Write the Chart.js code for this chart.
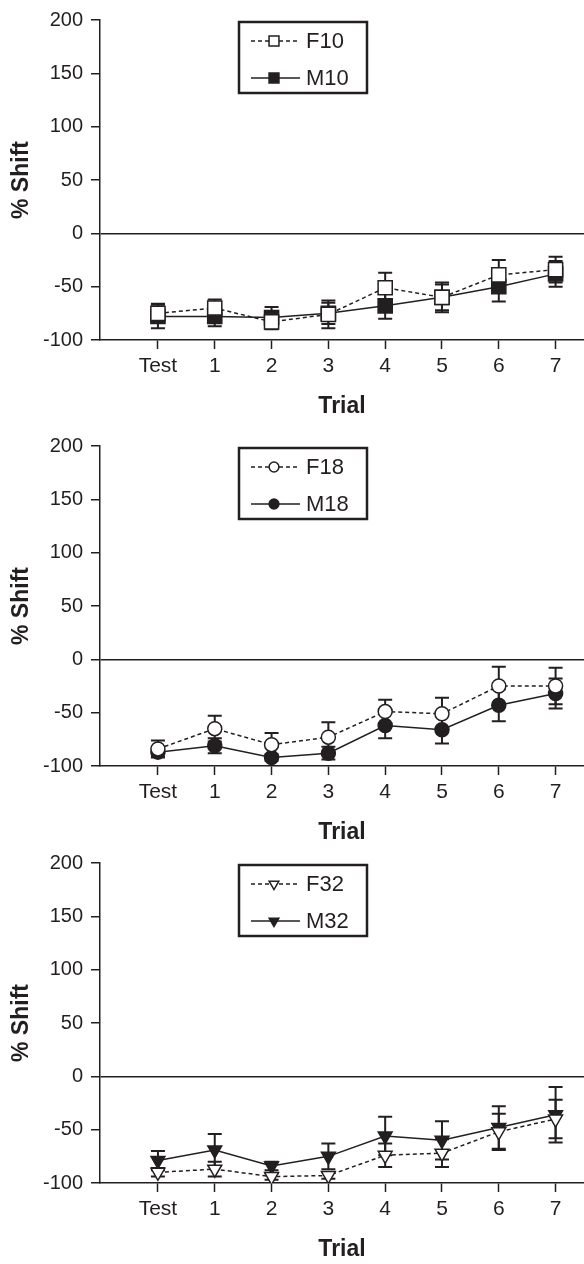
<!DOCTYPE html>
<html>
<head>
<meta charset="utf-8">
<script src="https://cdn.jsdelivr.net/npm/chart.js@4.4.1/dist/chart.umd.min.js"></script>
<style>
    html, body { margin: 0; padding: 0; background: #fff; overflow: hidden; width: 584px; height: 1264px; }
    .panel { position: absolute; left: 0; width: 584px; height: 420px; }
</style>
</head>
<body>
<div class="panel" style="top:0"><canvas id="chart10"></canvas></div>
<div class="panel" style="top:426px"><canvas id="chart18"></canvas></div>
<div class="panel" style="top:843px"><canvas id="chart32"></canvas></div>
<script>
// data
const trialLabels = ['Test', '1', '2', '3', '4', '5', '6', '7'];
const yTicks = [-100, -50, 0, 50, 100, 150, 200];

const f10 = [-75, -70, -83, -76, -51, -60, -39, -34];
const f10Err = [9, 8, 7, 13, 14, 14, 14, 12];
const m10 = [-78, -78, -79, -75, -68, -60, -50, -38];
const m10Err = [11, 9, 10, 10, 12, 12, 14, 12];

const f18 = [-84, -65, -80, -73, -49, -51, -25, -25];
const f18Err = [8, 12, 11, 14, 11, 15, 18, 17];
const m18 = [-87, -81, -92, -88, -62, -66, -43, -32];
const m18Err = [4, 7, 3, 6, 12, 13, 15, 14];

const f32 = [-90, -87, -94, -93, -74, -72, -52, -40];
const f32Err = [4, 7, 3, 3, 11, 13, 17, 18];
const m32 = [-79, -69, -84, -75, -56, -60, -48, -36];
const m32Err = [9, 15, 4, 12, 18, 18, 20, 26];

const ink = '#231f20';
const fontFamily = '"Liberation Sans", Arial, sans-serif';

// vertical error bars, drawn under the markers
const errorBars = {
    id: 'errorBars',
    beforeDatasetsDraw(chart) {
        const ctx = chart.ctx;
        const xs = chart.scales.x, ys = chart.scales.y;
        ctx.save();
        ctx.strokeStyle = ink;
        ctx.lineWidth = 2;
        chart.data.datasets.forEach(ds => {
            ds.errors.forEach((e, i) => {
                const v = ds.data[i].y;
                const x = xs.getPixelForValue(i);
                const y1 = ys.getPixelForValue(v + e);
                const y2 = ys.getPixelForValue(v - e);
                ctx.beginPath();
                ctx.moveTo(x, y1); ctx.lineTo(x, y2);
                ctx.moveTo(x - 7, y1); ctx.lineTo(x + 7, y1);
                ctx.moveTo(x - 7, y2); ctx.lineTo(x + 7, y2);
                ctx.stroke();
            });
        });
        ctx.restore();
    }
};

// boxed legend inside the plot
const boxLegend = {
    id: 'boxLegend',
    afterDraw(chart) {
        const ctx = chart.ctx;
        const top = chart.chartArea.top;
        ctx.save();
        ctx.strokeStyle = ink;
        ctx.lineWidth = 2.5;
        ctx.strokeRect(239, top + 2, 128, 71);
        chart.data.datasets.forEach((ds, k) => {
            const cy = top + 21 + k * 37;
            ctx.lineWidth = 1.5;
            ctx.setLineDash(ds.borderDash || []);
            ctx.beginPath();
            ctx.moveTo(251, cy);
            ctx.lineTo(300, cy);
            ctx.stroke();
            ctx.setLineDash([]);
            ctx.fillStyle = ds.pointBackgroundColor;
            Chart.helpers.drawPoint(ctx, {
                pointStyle: ds.pointStyle,
                radius: ds.pointRadius * 0.7,
                rotation: ds.pointRotation || 0,
                borderWidth: 1.5
            }, 274, cy);
            ctx.fillStyle = ink;
            ctx.font = '22px ' + fontFamily;
            ctx.textBaseline = 'middle';
            ctx.textAlign = 'left';
            ctx.fillText(ds.label, 306, cy + 1);
        });
        ctx.restore();
    }
};

function series(label, values, errors, style, radius, filled, dashed, rotation) {
    return {
        label: label,
        data: values.map((v, i) => ({ x: i, y: v })),
        errors: errors,
        borderColor: ink,
        borderWidth: 1.5,
        borderDash: dashed ? [4, 3] : [],
        pointStyle: style,
        pointRadius: radius,
        pointRotation: rotation || 0,
        pointBackgroundColor: filled ? ink : '#fff',
        pointBorderColor: ink,
        pointBorderWidth: 1.5,
        tension: 0,
        fill: false
    };
}

function makeChart(id, datasets) {
    const tickFont = { family: fontFamily, size: 20 };
    const xTickFont = { family: fontFamily, size: 21 };
    const titleFont = { family: fontFamily, size: 23, weight: 'bold' };
    new Chart(document.getElementById(id), {
        type: 'line',
        data: { datasets: datasets },
        options: {
            responsive: true,
            maintainAspectRatio: false,
            animation: false,
            events: [],
            layout: { autoPadding: false, padding: { top: 17, right: 0, left: 0, bottom: 0 } },
            plugins: { legend: { display: false }, tooltip: { enabled: false } },
            scales: {
                x: {
                    type: 'linear',
                    min: -1.02,
                    max: 7.5,
                    afterBuildTicks: s => { s.ticks = trialLabels.map((t, i) => ({ value: i })); },
                    afterFit: s => { s.height = 80; s.paddingLeft = 0; s.paddingRight = 0; },
                    ticks: {
                        callback: v => trialLabels[v],
                        font: xTickFont,
                        color: ink,
                        padding: 5,
                        autoSkip: false,
                        maxRotation: 0
                    },
                    grid: { drawOnChartArea: false, tickLength: 9, tickColor: ink, tickWidth: 1.5 },
                    border: { color: ink, width: 1.5 },
                    title: { display: true, text: 'Trial', font: titleFont, color: ink, padding: 0 }
                },
                y: {
                    min: -100,
                    max: 200,
                    afterBuildTicks: s => { s.ticks = yTicks.map(v => ({ value: v })); },
                    afterFit: s => { s.width = 100; },
                    ticks: { font: tickFont, color: ink, padding: 8 },
                    grid: {
                        color: c => (c.tick && c.tick.value === 0) ? ink : 'rgba(0,0,0,0)',
                        lineWidth: 1.5,
                        tickLength: 9,
                        tickColor: ink,
                        tickWidth: 1.5
                    },
                    border: { color: ink, width: 1.5 },
                    title: { display: true, text: '% Shift', font: titleFont, color: ink, padding: 8 }
                }
            }
        },
        plugins: [errorBars, boxLegend]
    });
}

makeChart('chart10', [
    series('F10', f10, f10Err, 'rect', 10, false, true),
    series('M10', m10, m10Err, 'rect', 10, true, false)
]);
makeChart('chart18', [
    series('F18', f18, f18Err, 'circle', 7, false, true),
    series('M18', m18, m18Err, 'circle', 7, true, false)
]);
makeChart('chart32', [
    series('F32', f32, f32Err, 'triangle', 8, false, true, 180),
    series('M32', m32, m32Err, 'triangle', 8, true, false, 180)
]);
</script>
</body>
</html>
